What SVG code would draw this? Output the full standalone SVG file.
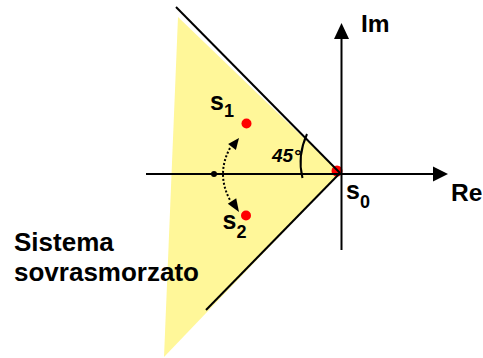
<svg xmlns="http://www.w3.org/2000/svg" width="483" height="358" viewBox="0 0 483 358">
<style>
.ln{stroke:#000;stroke-width:2;fill:none}
.t{font-family:"Liberation Sans",Arial,sans-serif;font-weight:bold;fill:#000}
.pole{fill:#f00}
</style>
<rect width="483" height="358" fill="#fff"/>
<g id="region">
<polygon points="178,17 340,173 164,357" fill="#FFF799"/>
</g>
<g id="poles">
<circle id="s0dot" class="pole" cx="337" cy="171" r="5.5"/>
<circle id="s1dot" class="pole" cx="246.5" cy="123.5" r="5"/>
<circle id="s2dot" class="pole" cx="246" cy="215.5" r="5"/>
</g>
<g id="connectors">
<line class="ln" x1="176" y1="7" x2="340" y2="173"/>
<line class="ln" x1="206" y1="310" x2="340" y2="173"/>
<line class="ln" x1="146" y1="174" x2="434" y2="174"/>
<polygon points="448,174 433,166.5 433,181.5" fill="#000"/>
<line class="ln" x1="341.5" y1="250" x2="341.5" y2="38"/>
<polygon points="341.5,23 334,39 349,39" fill="#000"/>
<path class="ln" d="M307,134 Q297,156 302.5,178"/>
<path d="M230,148 Q216,174 230,200" stroke="#000" stroke-width="2" fill="none" stroke-dasharray="2,2"/>
<polygon points="239,138 235.9,150.1 228.1,143.9" fill="#000"/>
<polygon points="239,212 236.2,198.3 227.8,203.7" fill="#000"/>
<circle cx="214" cy="174" r="3" fill="#000"/>
</g>
<g id="labels">
<text class="t" x="361" y="31.5" font-size="24.5">Im</text>
<text class="t" x="451" y="200.5" font-size="24.5">Re</text>
<text class="t" x="210" y="110" font-size="25">s<tspan font-size="18" dy="7">1</tspan></text>
<text class="t" x="222.5" y="229" font-size="25">s<tspan font-size="18" dy="8.5">2</tspan></text>
<text class="t" x="346" y="198.5" font-size="25">s<tspan font-size="18" dy="9.5">0</tspan></text>
<text class="t" x="272" y="161.5" font-size="19" font-style="italic">45°</text>
<text class="t" x="14" y="251" font-size="26">Sistema</text>
<text class="t" x="14" y="281" font-size="26">sovrasmorzato</text>
</g>
</svg>
